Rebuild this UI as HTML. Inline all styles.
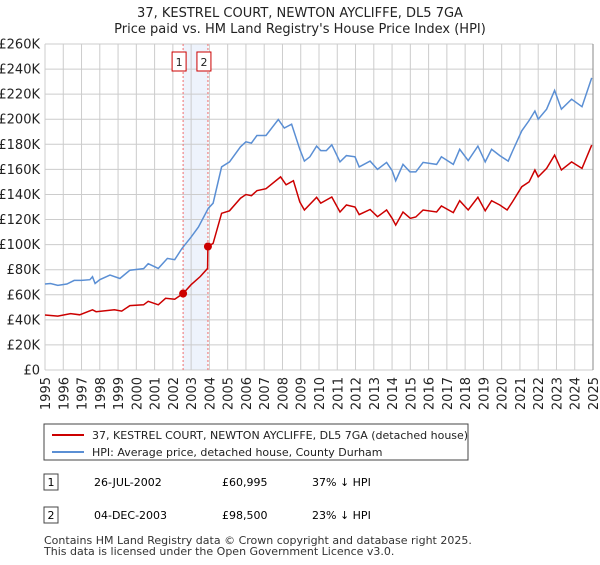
<!DOCTYPE html>
<html><head><meta charset="utf-8"><style>
body{margin:0;background:#fff;font-family:"Liberation Sans","DejaVu Sans",sans-serif;}
svg text{font-family:"DejaVu Sans","Liberation Sans",sans-serif;}
</style></head><body>
<svg id="c" width="600" height="560" xmlns="http://www.w3.org/2000/svg">
<text x="300" y="17" text-anchor="middle" font-size="13" fill="#222">37, KESTREL COURT, NEWTON AYCLIFFE, DL5 7GA</text>
<text x="300" y="33" text-anchor="middle" font-size="13" fill="#222">Price paid vs. HM Land Registry's House Price Index (HPI)</text>
<g id="grid"></g><g id="axes"></g><g id="series"></g>
<rect x="44" y="424" width="424" height="36" fill="#fff" stroke="#444"/>
<line x1="52" y1="435" x2="84" y2="435" stroke="#cc0000" stroke-width="2"/>
<text x="92" y="439" font-size="11" fill="#222">37, KESTREL COURT, NEWTON AYCLIFFE, DL5 7GA (detached house)</text>
<line x1="52" y1="452" x2="84" y2="452" stroke="#5b8fd4" stroke-width="2"/>
<text x="92" y="456" font-size="11" fill="#222">HPI: Average price, detached house, County Durham</text>
<rect x="44" y="474" width="14" height="16" fill="#fff" stroke="#444"/>
<text x="51" y="486" font-size="11" text-anchor="middle">1</text>
<text x="94" y="486" font-size="11">26-JUL-2002</text>
<text x="222" y="486" font-size="11">£60,995</text>
<text x="312" y="486" font-size="11">37% ↓ HPI</text>
<rect x="44" y="507" width="14" height="16" fill="#fff" stroke="#444"/>
<text x="51" y="519" font-size="11" text-anchor="middle">2</text>
<text x="94" y="519" font-size="11">04-DEC-2003</text>
<text x="222" y="519" font-size="11">£98,500</text>
<text x="312" y="519" font-size="11">23% ↓ HPI</text>
<text x="44" y="544" font-size="11" fill="#333">Contains HM Land Registry data © Crown copyright and database right 2025.</text>
<text x="44" y="555" font-size="11" fill="#333">This data is licensed under the Open Government Licence v3.0.</text>
</svg>
<script>
const yTicks=[0,20,40,60,80,100,120,140,160,180,200,220,240,260];
const yTickLabels=["£0","£20K","£40K","£60K","£80K","£100K","£120K","£140K","£160K","£180K","£200K","£220K","£240K","£260K"];
const xYears=[1995,1996,1997,1998,1999,2000,2001,2002,2003,2004,2005,2006,2007,2008,2009,2010,2011,2012,2013,2014,2015,2016,2017,2018,2019,2020,2021,2022,2023,2024,2025];
const hpiDates=[1995.0,1995.3,1995.7,1996.2,1996.6,1997.0,1997.46,1997.6,1997.74,1998.0,1998.56,1999.1,1999.65,2000.4,2000.65,2001.2,2001.7,2002.1,2002.5,2003.0,2003.4,2003.94,2004.2,2004.67,2005.1,2005.7,2006.0,2006.3,2006.6,2007.1,2007.77,2008.1,2008.5,2008.95,2009.2,2009.5,2009.87,2010.1,2010.4,2010.7,2011.15,2011.5,2011.97,2012.2,2012.8,2013.2,2013.7,2014.0,2014.2,2014.6,2014.98,2015.3,2015.7,2016.44,2016.7,2017.35,2017.7,2018.17,2018.7,2019.1,2019.45,2019.9,2020.36,2020.6,2021.1,2021.5,2021.82,2022.0,2022.46,2022.9,2023.27,2023.83,2024.4,2024.93];
const hpiValues=[68.6,69,67.5,68.6,71.5,71.5,72,74.4,69,72,75.7,73,79.6,80.9,84.8,81,89,88,97,106,114,129,133,162,166,178,182,181,187,187,199.8,193,196,176,166.6,170,178.6,175,175,179.6,166,171,170,162,166.6,160,165.6,159,151,164,158,158,165.6,164,170,164,176,167,178.6,166,176,171,166.6,174.7,190.8,199,206.6,200,208,223,208,216,210,233];
const priceDates=[1995.0,1995.7,1996.4,1996.9,1997.6,1997.8,1998.8,1999.2,1999.65,2000.4,2000.65,2001.2,2001.6,2002.1,2002.56,2003.0,2003.5,2003.9,2003.92,2004.2,2004.67,2005.1,2005.7,2006.0,2006.3,2006.6,2007.1,2007.9,2008.2,2008.6,2008.95,2009.2,2009.87,2010.1,2010.7,2011.15,2011.5,2011.97,2012.2,2012.8,2013.2,2013.7,2014.0,2014.2,2014.6,2015.0,2015.3,2015.7,2016.44,2016.7,2017.35,2017.7,2018.17,2018.7,2019.1,2019.45,2019.9,2020.3,2020.6,2021.1,2021.5,2021.82,2022.0,2022.46,2022.9,2023.27,2023.83,2024.4,2024.93];
const priceValues=[43.9,43,45,44,48,46.5,48,47,51.4,52,54.8,52,57.2,56.5,61,68,74.6,81,98.5,101,125,127,137,140,139,143,144.6,154,147.7,151,134,127.6,137.7,133,138,126,131.6,130,123.9,128,122.3,127.6,121,115.6,126,121,122,127.6,126,130.8,125.5,135,127.6,137.7,127,135,131.6,127.6,134.3,146.2,150,159.5,154,160.8,171.4,159.5,166,160.8,179.4];
const saleDates=[2002.56,2003.92];
const saleValues=[60.995,98.5];
const saleLabels=["1","2"];

const X0=45,X1=593,Y0=370,Y1=44;
const xs=t=>X0+(t-1995)/(2025-1995)*(X1-X0);
const ys=v=>Y0-v/260*(Y0-Y1);
const NS="http://www.w3.org/2000/svg";
function mk(tag,attrs,parent){const e=document.createElementNS(NS,tag);for(const k in attrs)e.setAttribute(k,attrs[k]);parent.appendChild(e);return e;}
const grid=document.getElementById('grid'),axes=document.getElementById('axes'),series=document.getElementById('series');
const sh=mk('rect',{x:xs(saleDates[0]),y:Y1,width:xs(saleDates[1])-xs(saleDates[0]),height:Y0-Y1,fill:'#eef3fc'},grid);


yTicks.forEach((v,i)=>{
  const l=mk('line',{x1:X0,x2:X1,y1:ys(v),y2:ys(v),stroke:'#ccc','stroke-width':1},grid);
  
  
  const t=mk('text',{x:X0-5,y:ys(v)+4.5,'text-anchor':'end','font-size':'13',fill:'#222'},axes);
  t.textContent=yTickLabels[i];
  
  
});
xYears.forEach(y=>{
  const l=mk('line',{x1:xs(y),x2:xs(y),y1:Y1,y2:Y0,stroke:'#ccc','stroke-width':1},grid);
  
  
  const tx=xs(y)+5, ty=377;
  const t=mk('text',{x:tx,y:ty,'text-anchor':'end','font-size':'13',fill:'#222',transform:'rotate(-90 '+tx+' '+ty+')'},axes);
  t.textContent=y;
  
  
});
const ax=mk('line',{x1:X1,x2:X1,y1:Y1,y2:Y0,stroke:'#888','stroke-width':1},axes);


saleDates.forEach((d,i)=>{
  const l=mk('line',{x1:xs(d),x2:xs(d),y1:Y1,y2:Y0,stroke:'#f07070','stroke-width':1,'stroke-dasharray':'2,2'},grid);
  
  
  const b=mk('rect',{x:xs(d)-11,y:52,width:14,height:19,fill:'#fff',stroke:'#cc0000'},axes);
  
  
  const t=mk('text',{x:xs(d)-4,y:66,'text-anchor':'middle','font-size':'11',fill:'#222'},axes);
  t.textContent=saleLabels[i];
  
  
});
const path=(d,v)=>d.map((t,i)=>(i?'L':'M')+xs(t).toFixed(1)+','+ys(v[i]).toFixed(1)).join('');
const hp=mk('path',{d:path(hpiDates,hpiValues),fill:'none',stroke:'#5b8fd4','stroke-width':1.5},series);


const pp=mk('path',{d:path(priceDates,priceValues),fill:'none',stroke:'#cc0000','stroke-width':1.5},series);


saleDates.forEach((d,i)=>{
  const c=mk('circle',{cx:xs(d),cy:ys(saleValues[i]),r:4,fill:'#cc0000'},series);
  
  
});
</script>
</body></html>
